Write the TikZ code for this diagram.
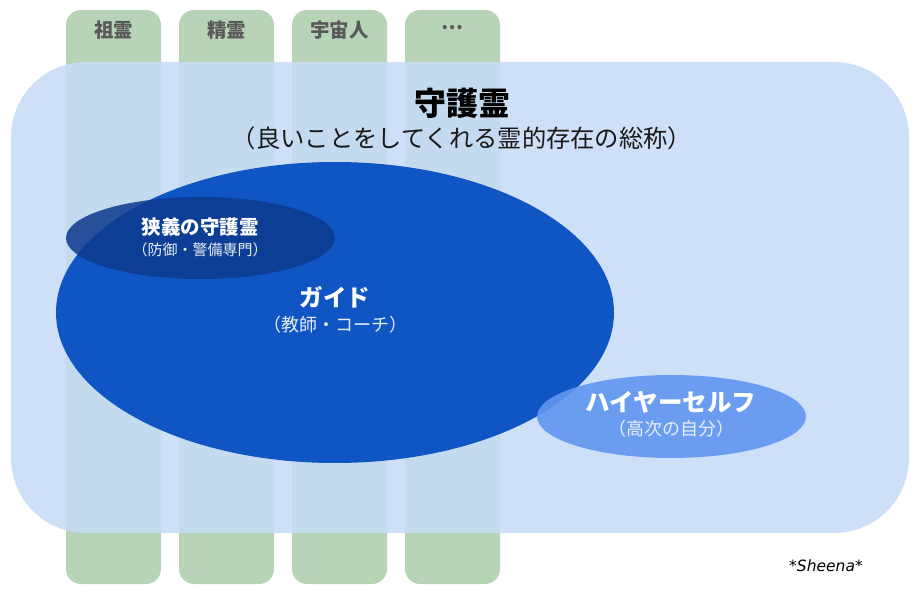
\documentclass[tikz,border=0pt]{standalone}
\usepackage{fontspec}
\newfontfamily\jp{Noto Sans CJK JP}
\newfontfamily\sig[ItalicFont={DejaVu Sans Oblique}]{DejaVu Sans}
\usetikzlibrary{shapes.geometric}
\definecolor{colgreen}{HTML}{B7D4B6}
\definecolor{areablue}{RGB}{199,219,247}
\definecolor{guideblue}{HTML}{0F55C4}
\definecolor{narrowblue}{HTML}{0B3A8C}
\definecolor{higherblue}{HTML}{5F96F0}
\definecolor{labelgray}{HTML}{595959}
\definecolor{subwhite}{HTML}{E8EEF8}
\begin{document}
\begin{tikzpicture}[x=1pt,y=-1pt,
  colbox/.style={draw=none,fill=colgreen,rounded corners=15pt,minimum width=95pt,minimum height=574pt,inner sep=0pt},
  collabel/.style={text=labelgray,font=\jp\bfseries\fontsize{19.5}{21}\selectfont,inner sep=0pt},
  areabox/.style={draw=none,fill=areablue,fill opacity=0.87,rounded corners=75pt,minimum width=898pt,minimum height=471pt,inner sep=0pt},
  ell/.style={ellipse,draw=none,inner sep=0pt},
  maintitle/.style={font=\jp\bfseries\fontsize{19.5}{21}\selectfont,text=white,inner sep=0pt},
  subtitle/.style={font=\jp\fontsize{15}{17}\selectfont,text=subwhite,inner sep=0pt}
]
\useasboundingbox (0,0) rectangle (914,604);
\node[colbox] (c1) at (113.5,297) {};
\node[colbox] (c2) at (226.5,297) {};
\node[colbox] (c3) at (339.5,297) {};
\node[colbox] (c4) at (452.5,297) {};
\node[collabel] (l1) at (113.5,30) {祖霊};
\node[collabel] (l2) at (226.5,30) {精霊};
\node[collabel] (l3) at (339.5,30) {宇宙人};
\node[collabel] (l4) at (452.5,28) {…};
\node[areabox] (area) at (460,297.5) {};
\node[font=\jp\bfseries\fontsize{32}{34}\selectfont,text=black,inner sep=0pt] (t1) at (462,103) {守護霊};
\node[font=\jp\fontsize{24.3}{26}\selectfont,text=black!90,inner sep=0pt] (t2) at (462,138) {（良いことをしてくれる霊的存在の総称）};
\node[ell,fill=guideblue,minimum width=558pt,minimum height=301pt] (guide) at (335,312.5) {};
\node[ell,fill=narrowblue,fill opacity=0.85,minimum width=269pt,minimum height=82pt] (narrow) at (200.5,238) {};
\node[ell,fill=higherblue,fill opacity=0.9,minimum width=269pt,minimum height=83pt] (higher) at (671.5,416.5) {};
\node[maintitle] (n1) at (200,227) {狭義の守護霊};
\node[subtitle] (n2) at (200,250) {（防御・警備専門）};
\node[maintitle,font=\jp\bfseries\fontsize{23.5}{25}\selectfont] (g1) at (335,297) {ガイド};
\node[subtitle,font=\jp\fontsize{18}{20}\selectfont] (g2) at (335,325) {（教師・コーチ）};
\node[maintitle,font=\jp\bfseries\fontsize{24.5}{26}\selectfont] (h1) at (671,402) {ハイヤーセルフ};
\node[subtitle,font=\jp\fontsize{18}{20}\selectfont] (h2) at (671,429) {（高次の自分）};
\node[font=\sig\itshape\fontsize{15.5}{17}\selectfont,text=black,inner sep=0pt] (sig) at (826,566) {*Sheena*};
\end{tikzpicture}
\end{document}
